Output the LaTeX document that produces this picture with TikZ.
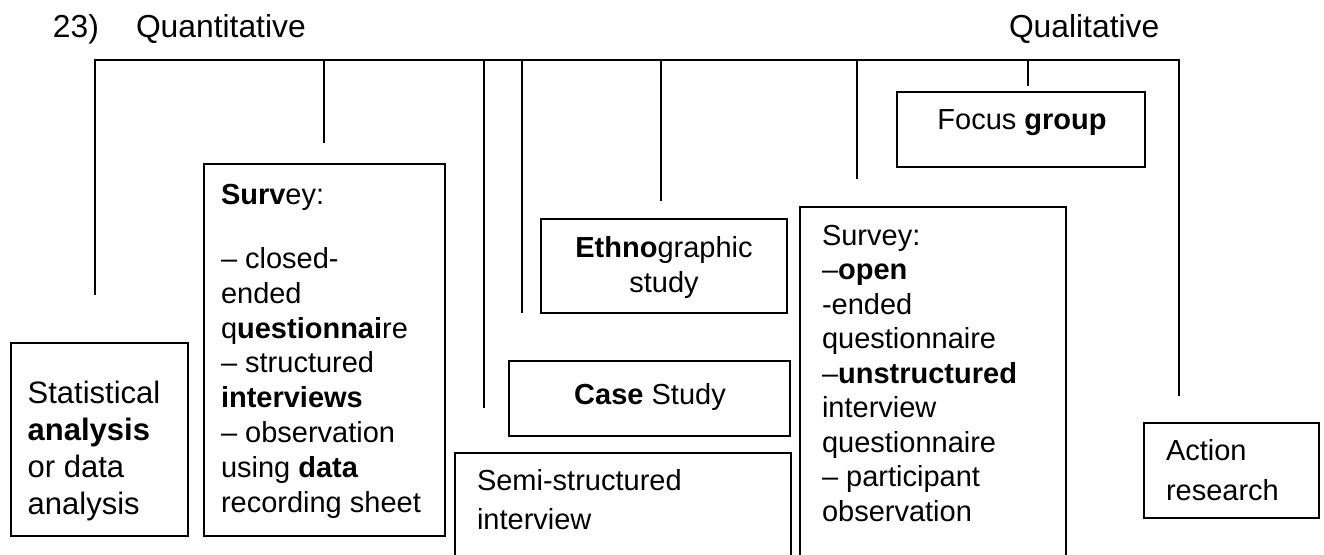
\documentclass[tikz,border=0pt]{standalone}
\usepackage{fontspec}
\setmainfont{Liberation Sans}
\begin{document}
\begin{tikzpicture}[x=0.5pt,y=-0.5pt,
  box/.style={draw, line width=1pt, inner sep=0pt, outer sep=0pt, anchor=north west},
  lbl/.style={inner sep=0pt, outer sep=0pt, align=left, anchor=base west},
  clbl/.style={inner sep=0pt, outer sep=0pt, align=center, anchor=base},
  conn/.style={line width=1pt},
  mainfont/.style={font=\fontsize{14.5}{17.4}\selectfont}]
\clip (0,0) rectangle (1324,554);
% headers
\node[lbl, font=\fontsize{15.9}{18}\selectfont] (num) at (53,37) {23)};
\node[lbl, font=\fontsize{15.9}{18}\selectfont] (quant) at (136,37) {Quantitative};
\node[lbl, font=\fontsize{15.9}{18}\selectfont] (qual) at (1009,37) {Qualitative};
% bar coordinates
\coordinate (tl) at (94.5,60);
\coordinate (tr) at (1179,60);
\coordinate (t2) at (323.7,60);
\coordinate (t3) at (483.5,60);
\coordinate (t4) at (522,60);
\coordinate (t5) at (660.7,60);
\coordinate (t6) at (857,60);
\coordinate (t7) at (1028,60);
\coordinate (e1) at (94.5,295);
\coordinate (e2) at (323.7,143);
\coordinate (e3) at (483.5,408);
\coordinate (e4) at (522,313);
\coordinate (e5) at (660.7,201);
\coordinate (e6) at (857,179);
\coordinate (e7) at (1028,86);
\coordinate (e8) at (1179,396);
\draw[conn] (e1) -- (tl) -- (tr) -- (e8);
\draw[conn] (t2) -- (e2);
\draw[conn] (t3) -- (e3);
\draw[conn] (t4) -- (e4);
\draw[conn] (t5) -- (e5);
\draw[conn] (t6) -- (e6);
\draw[conn] (t7) -- (e7);
% boxes
\node[box, minimum width=88.25pt, minimum height=96.5pt] (stat) at (11,343) {};
\node[box, minimum width=120.5pt, minimum height=186pt] (surv) at (204,164) {};
\node[box, minimum width=123pt, minimum height=47pt] (ethno) at (541,219) {};
\node[box, minimum width=140.5pt, minimum height=37.5pt] (case) at (509,361) {};
\node[box, minimum width=168pt, minimum height=60pt] (semi) at (455,453) {};
\node[box, minimum width=133pt, minimum height=180pt] (surv2) at (800,207) {};
\node[box, minimum width=124pt, minimum height=37.5pt] (focus) at (897,92) {};
\node[box, minimum width=87.25pt, minimum height=47.5pt] (action) at (1144,423) {};
% texts (base anchor = baseline of last line)
\node[lbl, font=\fontsize{15.5}{18.35}\selectfont] (statT) at (27.7,514)
  {Statistical\\\textbf{analysis}\\or data\\analysis};
\node[lbl, mainfont] (survT) at (221,512)
  {\textbf{Surv}ey:\\[14.6pt]– closed-\\ended\\q\textbf{uestionnai}re\\– structured\\\textbf{interviews}\\– observation\\using \textbf{data}\\recording sheet};
\node[clbl, font=\fontsize{14.5}{17.5}\selectfont] (ethnoT) at (664,292) {\textbf{Ethno}graphic\\study};
\node[clbl, mainfont] (caseT) at (650,404) {\textbf{Case} Study};
\node[lbl, font=\fontsize{14.5}{19.15}\selectfont] (semiT) at (477,529) {Semi-structured\\interview};
\node[lbl, font=\fontsize{14.5}{17.25}\selectfont] (surv2T) at (822,521)
  {Survey:\\–\textbf{open}\\-ended\\questionnaire\\–\textbf{unstructured}\\interview\\questionnaire\\– participant\\observation};
\node[clbl, mainfont] (focusT) at (1022,129) {Focus \textbf{group}};
\node[lbl, font=\fontsize{14.5}{19.65}\selectfont] (actionT) at (1166,500) {Action\\research};
\end{tikzpicture}
\end{document}
